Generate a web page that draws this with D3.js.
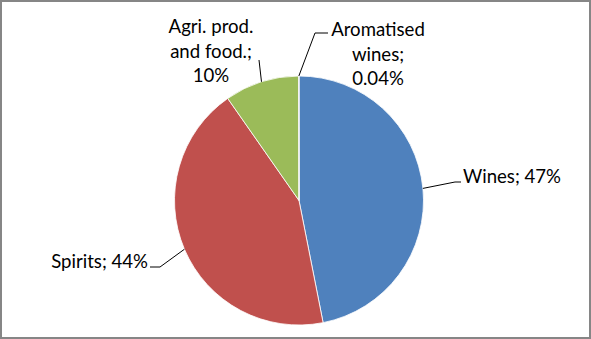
<!DOCTYPE html>
<html><head><meta charset="utf-8">
<script src="https://cdn.jsdelivr.net/npm/d3@7"></script>
<style>body{margin:0;background:#fff}svg{display:block}text{font-family:Lato,"Open Sans",sans-serif;font-size:18.6px;fill:#000}</style>
</head><body>
<svg id="c" width="591" height="339"></svg>
<script>
const categories = ["Wines", "Spirits", "Agri. prod. and food.", "Aromatised wines"];
const values = [46.9, 43.4, 9.66, 0.04];
const labelText = ["Wines; 47%", "Spirits; 44%", "Agri. prod.|and food.;|10%", "Aromatised|wines;|0.04%"];
const colors = ["#4F81BD", "#C0504D", "#9BBB59", "#8064A2"];

const svg = d3.select("#c");
svg.append("rect").attr("x",1).attr("y",1).attr("width",589).attr("height",337)
  .attr("fill","#fff").attr("stroke","#868686").attr("stroke-width",2);

const cx = 299, cy = 200.5, r = 124.5;
const pie = d3.pie().sort(null).value(d=>d)(values);
const arc = d3.arc().innerRadius(0).outerRadius(r);
const g = svg.append("g").attr("transform",`translate(${cx},${cy})`);
g.selectAll("path").data(pie).join("path").attr("d",arc)
  .attr("fill",(d,i)=>colors[i]).attr("stroke","#fff").attr("stroke-width",0.8);

const lab = [
  {x:463, y:183, anchor:"start", line:[[455,182],[461,182]]},
  {x:148, y:268, anchor:"end", line:[[160,267],[150,267]]},
  {x:211, y:33, anchor:"middle", line:[[259,60]]},
  {x:378, y:36, anchor:"middle", line:[[315,33],[328,33]]}
];
const lg = svg.append("g");
pie.forEach((d,i)=>{
  const mid = (d.startAngle+d.endAngle)/2;
  const p0 = [cx + r*Math.sin(mid), cy - r*Math.cos(mid)];
  const pts = [p0, ...lab[i].line];
  lg.append("path").attr("d", d3.line()(pts)).attr("fill","none").attr("stroke","#000").attr("stroke-width",1);
  const t = lg.append("text").attr("text-anchor",lab[i].anchor);
  labelText[i].split("|").forEach((s,k)=>{
    t.append("tspan").attr("x",lab[i].x).attr("y",lab[i].y + k*24.5).text(s);
  });
});
</script>
</body></html>
